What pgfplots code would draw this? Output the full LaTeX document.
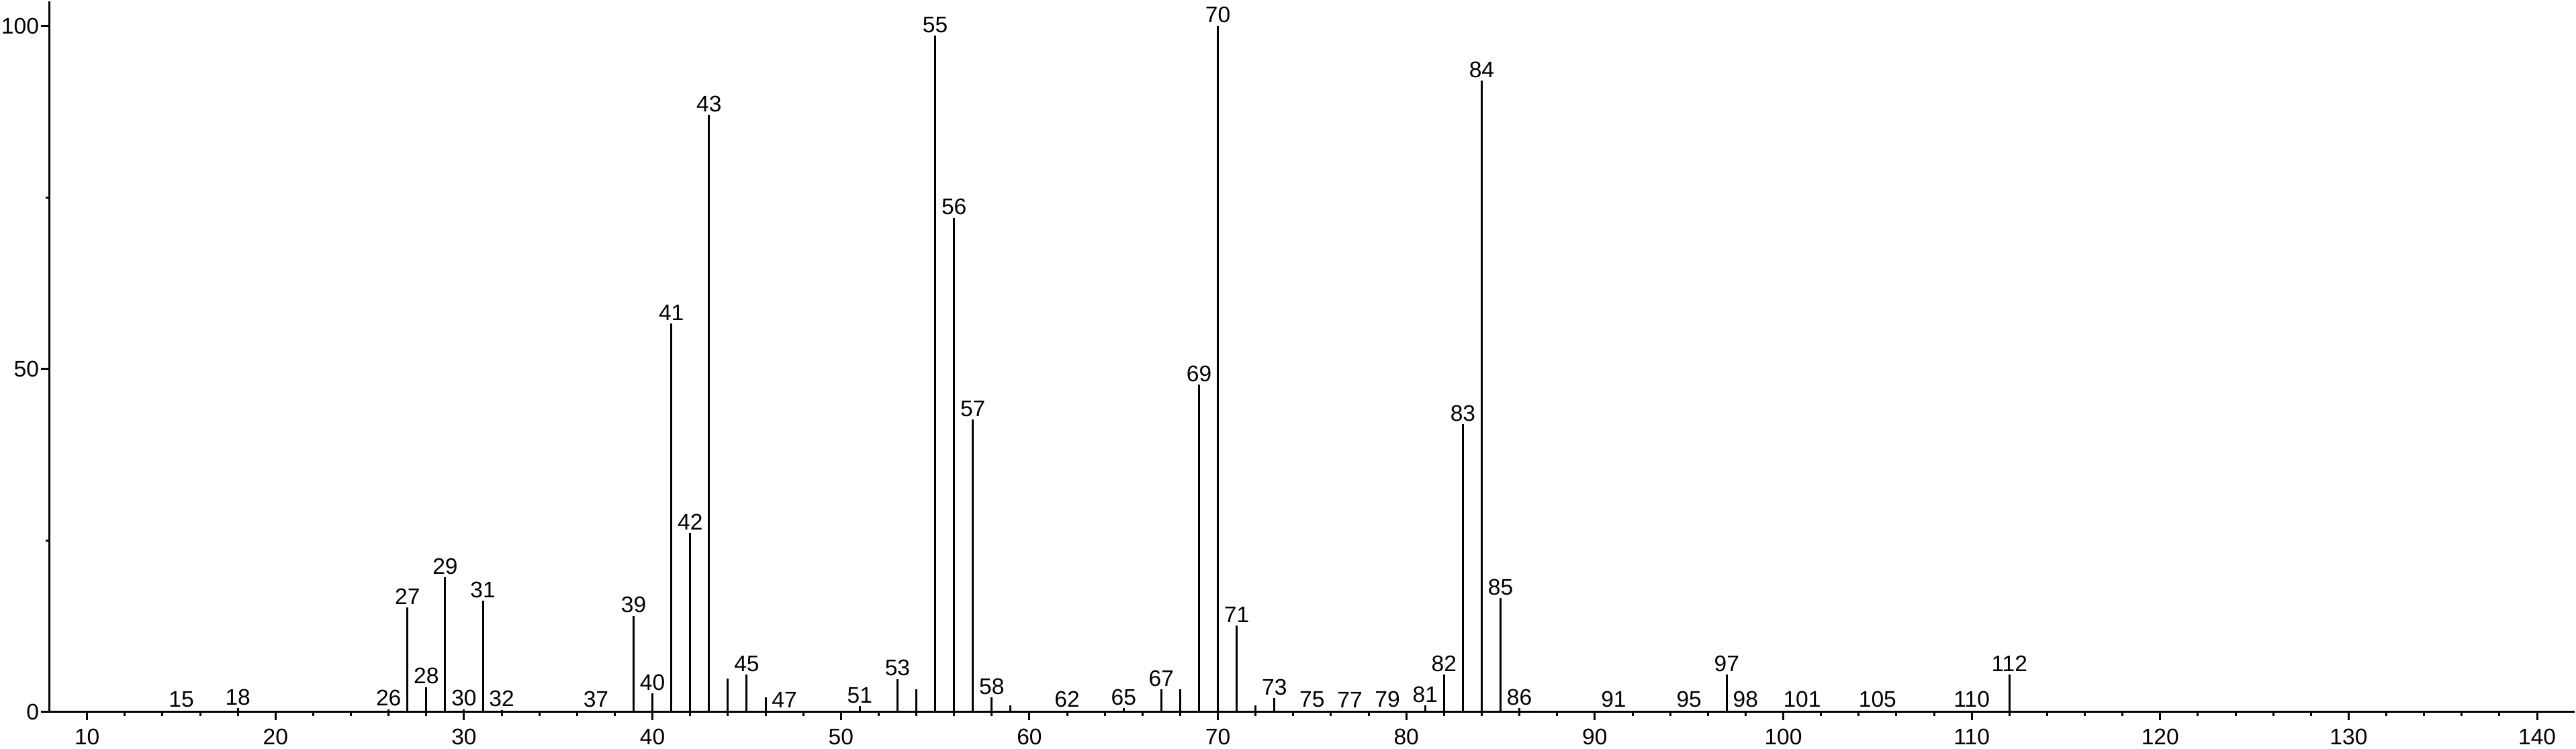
\documentclass[border=0pt]{standalone}
\usepackage{fontspec}
\setmainfont{Liberation Sans}
\usepackage{pgfplots}
\pgfplotsset{compat=1.18}
\usepackage{pgfplotstable}

\pgfplotstableread{
x y l
15 0.2 15
18 0.5 18
26 0.4 26
27 15.2 27
28 3.6 28
29 19.6 29
30 0.4 30
31 16.2 31
32 0.3 32
37 0.2 37
39 14.0 39
40 2.7 40
41 56.6 41
42 26.1 42
43 87.0 43
45 5.4 45
47 0.2 47
51 0.8 51
53 4.8 53
55 98.6 55
56 72.0 56
57 42.6 57
58 2.1 58
62 0.2 62
65 0.5 65
67 3.3 67
69 47.7 69
70 100 70
71 12.6 71
73 2.0 73
75 0.2 75
77 0.2 77
79 0.2 79
81 0.9 81
82 5.4 82
83 41.9 83
84 92.0 84
85 16.6 85
86 0.5 86
91 0.2 91
95 0.2 95
97 5.4 97
98 0.2 98
101 0.2 101
105 0.2 105
110 0.2 110
112 5.4 112
}\labeled

\pgfplotstableread{
x y
17 0.2
44 4.9
46 2.1
54 3.3
59 0.9
63 0.2
68 3.3
72 0.9
87 0.2
99 0.2
111 0.2
113 0.2
}\unlabeled

\begin{document}
\fontsize{8.4}{10}\selectfont
\begin{tikzpicture}
\begin{axis}[
  width=941.2pt, height=265pt, scale only axis,
  xmin=8, xmax=142, ymin=0, ymax=103.6,
  axis x line=bottom, axis y line=left,
  axis line style={line width=0.9pt, -},
  xtick={10,20,...,140}, minor x tick num=4,
  ytick={0,50,100}, minor y tick num=1,
  tick align=outside,
  major tick length=3.2pt, minor tick length=1.5pt,
  tick style={line width=0.75pt, black},
  /pgf/number format/assume math mode=true,
  ticklabel style={font=\fontsize{8.4}{10}\selectfont},
  xticklabel style={inner sep=0pt, yshift=-3pt},
  yticklabel style={inner sep=0.5pt},
  clip=false,
]
\addplot[ycomb, line width=0.75pt, black, no marks,
  nodes near coords, point meta=explicit symbolic,
  nodes near coords style={anchor=south, inner sep=0.75pt, font=\fontsize{8.4}{10}\selectfont, black}]
  table[x=x, y=y, meta=l] {\labeled};
\addplot[ycomb, line width=0.75pt, black, no marks]
  table[x=x, y=y] {\unlabeled};
\end{axis}
\path (current bounding box.south west) ++(0,-1.3pt);
\end{tikzpicture}
\end{document}
